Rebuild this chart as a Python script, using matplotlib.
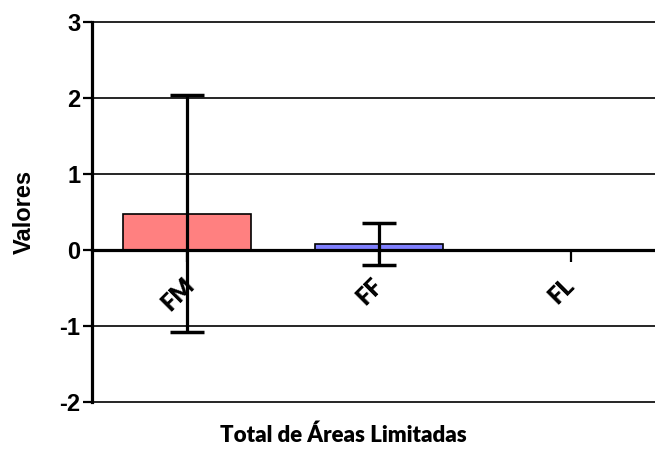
import matplotlib
matplotlib.use("Agg")
import matplotlib.pyplot as plt
import matplotlib.transforms as mtransforms
import numpy as np

categories = ["FM", "FF", "FL"]
means = [0.48, 0.08, 0.0]
errors = [1.56, 0.28, 0.0]
colors = ["#FF8080", "#8080FF", "#FFFFFF"]
yticks = [-2, -1, 0, 1, 2, 3]

fig = plt.figure(figsize=(6.55, 4.5), dpi=100)
ax = fig.add_axes([92/655, 1-402/450, 1-92/655, 380/450])

x = np.arange(len(categories))
ax.bar(x, means, width=0.67, color=colors, edgecolor="black", linewidth=1.2, zorder=3)
for xi, m, e in zip(x, means, errors):
    if e > 0:
        ax.errorbar(xi, m, yerr=e, fmt="none", ecolor="black", elinewidth=2.3,
                    capsize=12.5, capthick=2.5, zorder=4)

ax.set_xlim(-0.497, 2.44)
ax.set_ylim(-2.0, 3.0)
ax.set_yticks(yticks)
ax.set_yticklabels([str(t) for t in yticks], fontfamily="Liberation Sans",
                   fontweight="bold", fontsize=17)
for t in yticks:
    if t != 0:
        ax.axhline(t, color="black", linewidth=1.2, zorder=1, clip_on=False)

ax.spines["top"].set_visible(False)
ax.spines["right"].set_visible(False)
ax.spines["left"].set_linewidth(2.3)
ax.spines["bottom"].set_position(("data", 0))
ax.spines["bottom"].set_linewidth(2.3)
ax.spines["bottom"].set_zorder(5)
ax.tick_params(axis="y", direction="out", length=6.5, width=1.6, pad=2)
ax.tick_params(axis="x", direction="out", length=8.5, width=1.6, pad=9)

ax.set_xticks(x)
ax.set_xticklabels(categories, rotation=45, ha="center", va="top",
                   fontfamily="Lato", fontweight="heavy", fontsize=17)
offset = mtransforms.ScaledTranslation(-0.09, 0, fig.dpi_scale_trans)
for lab in ax.get_xticklabels():
    lab.set_transform(lab.get_transform() + offset)

ax.set_xlabel("Total de Áreas Limitadas", fontfamily="Lato", fontweight="heavy", fontsize=16)
ax.xaxis.set_label_coords(0.446, -0.06)
ax.set_ylabel("Valores", fontfamily="Liberation Sans", fontweight="bold", fontsize=17)
ax.yaxis.set_label_coords(-0.099, 0.5)

fig.savefig("out.png", dpi=100)
